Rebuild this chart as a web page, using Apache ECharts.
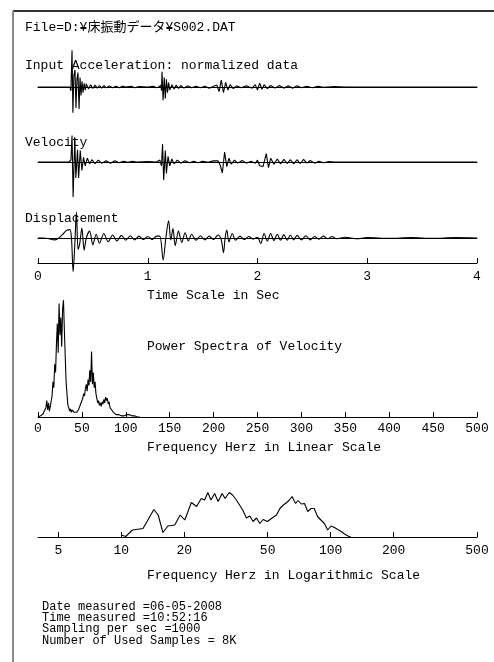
<!DOCTYPE html>
<html>
<head>
<meta charset="utf-8">
<style>
  html, body { margin: 0; padding: 0; background: #fff; }
  #chart { width: 494px; height: 662px; }
</style>
<script src="https://cdn.jsdelivr.net/npm/echarts@6/dist/echarts.min.js"></script>
</head>
<body>
<div id="chart"></div>
<script>
// time traces, [sec, normalized amplitude]
const accel = [
  [0, 0], [0.29, 0], [0.30, -0.10], [0.31, 0.97], [0.318, -0.68], [0.327, 0.30], [0.337, 0.45],
  [0.346, -0.55], [0.355, 0.20], [0.364, 0.38], [0.374, -0.58], [0.383, 0.25], [0.392, -0.22],
  [0.401, 0.15], [0.41, -0.15], [0.42, 0.10], [0.43, -0.08], [0.44, 0.08], [0.46, -0.05],
  [0.48, 0.06], [0.50, -0.04], [0.52, 0.05], [0.54, -0.03], [0.56, 0.04], [0.58, -0.03],
  [0.60, 0.04], [0.62, -0.02], [0.65, 0.03], [0.68, -0.02], [0.71, 0.02], [0.74, -0.02],
  [0.77, 0.02], [0.80, 0], [0.85, 0.02], [0.88, -0.02], [0.92, 0.01], [1.0, 0], [1.05, 0.02],
  [1.08, -0.02], [1.10, 0], [1.12, 0.05], [1.125, -0.10], [1.13, 0.40], [1.14, -0.35],
  [1.15, 0.25], [1.16, -0.30], [1.17, 0.20], [1.18, -0.15], [1.19, 0.12], [1.20, -0.08],
  [1.22, 0.06], [1.24, -0.05], [1.26, 0.05], [1.28, -0.04], [1.30, 0.04], [1.33, -0.03],
  [1.36, 0.03], [1.40, -0.02], [1.44, 0.02], [1.48, -0.02], [1.52, 0.02], [1.56, -0.03],
  [1.60, 0.02], [1.63, 0.05], [1.65, -0.12], [1.67, 0.18], [1.69, -0.15], [1.71, 0.12],
  [1.73, -0.08], [1.75, 0.06], [1.78, -0.04], [1.81, 0.03], [1.85, -0.02], [1.90, 0.03],
  [1.95, -0.03], [1.98, 0.06], [2.00, -0.08], [2.02, 0.10], [2.04, -0.06], [2.06, 0.06],
  [2.09, -0.04], [2.12, 0.04], [2.16, -0.03], [2.20, 0.04], [2.24, -0.03], [2.28, 0.03],
  [2.32, -0.03], [2.36, 0.03], [2.40, -0.02], [2.45, 0.02], [2.50, -0.02], [2.55, 0.02],
  [2.60, -0.01], [2.70, 0.01], [2.80, 0], [4, 0]
];
const velocity = [
  [0, 0], [0.28, 0], [0.30, 0.05], [0.31, 0.70], [0.32, -0.92], [0.335, 0.63], [0.345, -0.42],
  [0.36, 0.32], [0.37, -0.42], [0.385, 0.30], [0.40, -0.22], [0.415, 0.12], [0.43, -0.10],
  [0.45, 0.10], [0.47, -0.05], [0.49, 0.06], [0.52, -0.04], [0.55, 0.05], [0.58, -0.03],
  [0.62, 0.03], [0.66, -0.03], [0.70, 0.03], [0.74, -0.02], [0.78, 0.02], [0.82, -0.01],
  [0.86, 0.02], [0.90, 0], [1.0, 0.01], [1.08, 0], [1.11, 0.05], [1.125, -0.10], [1.135, 0.47],
  [1.145, -0.47], [1.16, 0.30], [1.17, -0.30], [1.185, 0.15], [1.20, -0.10], [1.22, 0.08],
  [1.24, -0.05], [1.27, 0.05], [1.30, -0.03], [1.34, 0.03], [1.38, -0.02], [1.42, 0.02],
  [1.46, -0.02], [1.50, 0.02], [1.55, -0.01], [1.60, 0.03], [1.64, 0.03], [1.66, -0.08],
  [1.68, -0.29], [1.70, 0.26], [1.72, -0.12], [1.74, 0.10], [1.76, -0.06], [1.79, 0.05],
  [1.82, -0.03], [1.86, 0.04], [1.90, -0.03], [1.94, 0.02], [1.98, -0.03], [2.00, 0.05],
  [2.02, -0.10], [2.05, -0.12], [2.08, 0.22], [2.10, -0.15], [2.12, 0.10], [2.15, -0.06],
  [2.18, 0.08], [2.21, -0.05], [2.24, 0.07], [2.27, -0.04], [2.30, 0.06], [2.33, -0.05],
  [2.36, 0.06], [2.39, -0.04], [2.42, 0.07], [2.45, -0.03], [2.48, 0.04], [2.52, -0.03],
  [2.56, 0.02], [2.60, -0.02], [2.65, 0.01], [2.70, 0], [4, 0]
];
const displacement = [
  [0, 0], [0.05, 0], [0.10, -0.02], [0.15, -0.05], [0.18, -0.02], [0.22, 0.08], [0.26, 0.20],
  [0.29, 0.22], [0.305, 0], [0.32, -0.89], [0.335, -0.20], [0.35, 0.68], [0.365, -0.30],
  [0.38, -0.15], [0.40, 0.26], [0.42, -0.32], [0.44, 0], [0.47, 0.18], [0.50, -0.18],
  [0.53, 0.10], [0.56, -0.14], [0.60, 0.12], [0.64, -0.10], [0.68, 0.08], [0.72, -0.08],
  [0.76, 0.07], [0.80, -0.06], [0.84, 0.06], [0.88, -0.05], [0.92, 0.05], [0.96, -0.04],
  [1.00, 0.04], [1.04, -0.04], [1.08, 0.05], [1.11, 0.05], [1.14, -0.58], [1.165, 0],
  [1.19, 0.45], [1.21, -0.05], [1.23, 0.25], [1.25, -0.20], [1.28, 0.18], [1.31, -0.12],
  [1.34, 0.14], [1.37, -0.08], [1.40, 0.10], [1.44, -0.06], [1.48, 0.06], [1.52, -0.05],
  [1.56, 0.05], [1.60, -0.04], [1.64, 0.08], [1.67, -0.05], [1.69, -0.39], [1.705, 0],
  [1.72, 0.21], [1.74, -0.10], [1.77, 0.12], [1.80, -0.06], [1.84, 0.05], [1.88, -0.04],
  [1.92, 0.04], [1.96, -0.03], [2.00, 0.02], [2.03, -0.15], [2.06, 0.12], [2.09, -0.08],
  [2.12, 0.12], [2.15, -0.07], [2.18, 0.10], [2.21, -0.06], [2.24, 0.09], [2.27, -0.06],
  [2.30, 0.08], [2.33, -0.05], [2.36, 0.07], [2.40, -0.05], [2.44, 0.06], [2.48, -0.05],
  [2.52, 0.04], [2.56, -0.03], [2.60, 0.05], [2.64, -0.02], [2.68, 0.04], [2.72, -0.02],
  [2.80, 0.02], [2.90, -0.02], [3.00, 0.01], [3.20, -0.01], [3.40, 0.01], [3.60, -0.01],
  [3.80, 0.01], [4.0, 0]
];
const timeTicks = [0, 1, 2, 3, 4];

// power spectrum, one value per Hz from 0 Hz
const linPower = [
  0, 0, 0.01, 0.01, 0.02, 0.02, 0.03, 0.05, 0.04, 0.08,
  0.14, 0.06, 0.12, 0.05, 0.09, 0.10, 0.18, 0.30, 0.25, 0.45,
  0.38, 0.62, 0.80, 0.55, 0.97, 0.70, 0.85, 0.60, 0.92, 1.00,
  0.75, 0.52, 0.30, 0.20, 0.10, 0.08, 0.05, 0.07, 0.04, 0.06,
  0.05, 0.04, 0.03, 0.05, 0.04, 0.05, 0.06, 0.08, 0.10, 0.12,
  0.14, 0.16, 0.20, 0.18, 0.24, 0.28, 0.22, 0.32, 0.27, 0.40,
  0.30, 0.56, 0.28, 0.38, 0.25, 0.30, 0.20, 0.16, 0.12, 0.14,
  0.10, 0.12, 0.09, 0.13, 0.11, 0.15, 0.12, 0.17, 0.14, 0.16,
  0.11, 0.13, 0.08, 0.09, 0.06, 0.05, 0.04, 0.03, 0.03, 0.02,
  0.02, 0.01, 0.02, 0.01, 0.02, 0.01, 0.01, 0.02, 0.01, 0.02,
  0.01, 0.02, 0.01, 0.01, 0.02, 0.01, 0.01, 0.01, 0.02, 0.01,
  0.01, 0, 0.01, 0, 0.01, 0, 0
];
const linTicks = [0, 50, 100, 150, 200, 250, 300, 350, 400, 450, 500];

// log spectrum, [Hz, normalized level]
const logPower = [
  [10, 0.04], [10.5, 0.01], [11.3, 0.14], [12.7, 0.17], [13.4, 0.34], [14.3, 0.55], [15.0, 0.44],
  [15.8, 0.09], [16.7, 0.22], [18.0, 0.24], [19.1, 0.44], [20.1, 0.34], [21.6, 0.69], [22.9, 0.61],
  [24.1, 0.77], [25.0, 0.74], [25.9, 0.89], [26.8, 0.74], [27.9, 0.87], [29.0, 0.71], [30.3, 0.87],
  [31.3, 0.77], [32.8, 0.89], [34.0, 0.84], [35.3, 0.75], [36.7, 0.64], [38.0, 0.54], [39.6, 0.38],
  [41.1, 0.42], [42.6, 0.31], [44.2, 0.38], [45.9, 0.27], [47.6, 0.35], [49.9, 0.31], [52.1, 0.37],
  [55.1, 0.44], [57.2, 0.57], [59.4, 0.64], [61.7, 0.69], [63.5, 0.74], [65.4, 0.81], [68.0, 0.67],
  [69.9, 0.73], [72.4, 0.66], [75.0, 0.67], [77.7, 0.51], [80.6, 0.57], [83.4, 0.57], [86.6, 0.41],
  [89.8, 0.34], [93.3, 0.27], [96.8, 0.14], [100.4, 0.22], [104.3, 0.19], [108.1, 0.15],
  [112.3, 0.11], [116.5, 0.06], [121.0, 0.02], [124.7, 0]
];
const logTicks = [5, 10, 20, 50, 100, 200, 500];

const infoLines = [
  'Date measured =06-05-2008',
  'Time measured =10:52:16',
  'Sampling per sec =1000',
  'Number of Used Samples = 8K'
];

const FONT = "'Liberation Mono', 'Noto Sans CJK JP', monospace";
const ink = '#000';

const linData = linPower.map((v, i) => [i, v]);

function label(text, left, top, size) {
  return {
    text: text, left: left, top: top, padding: 0,
    textStyle: { fontFamily: FONT, fontSize: size || 13, fontWeight: 'normal', color: ink }
  };
}

function traceX(idx) {
  return {
    gridIndex: idx, type: 'value', min: 0, max: 4,
    axisLine: { show: true, onZero: true, lineStyle: { color: ink, width: 1 } },
    axisTick: { show: false }, axisLabel: { show: false }, splitLine: { show: false }
  };
}
function hiddenY(idx, min, max) {
  return { gridIndex: idx, type: 'value', min: min, max: max, show: false, splitLine: { show: false } };
}
function tickAxis(idx, extra) {
  return Object.assign({
    gridIndex: idx,
    axisLine: { show: true, onZero: false, lineStyle: { color: ink, width: 1 } },
    axisTick: { show: true, inside: true, length: 5, lineStyle: { color: ink } },
    axisLabel: { fontFamily: FONT, fontSize: 13, color: ink, margin: 6 },
    splitLine: { show: false }, minorTick: { show: false }
  }, extra);
}
function trace(data, xi, yi, smooth) {
  return {
    type: 'line', data: data, xAxisIndex: xi, yAxisIndex: yi, smooth: smooth || false,
    showSymbol: false, symbol: 'none', lineStyle: { color: ink, width: 1.1 }, silent: true
  };
}

const chart = echarts.init(document.getElementById('chart'), null, { renderer: 'canvas' });

chart.setOption({
  animation: false,
  backgroundColor: '#fff',
  title: [
    label('File=D:¥床振動データ¥S002.DAT', 25, 21),
    label('Input Acceleration: normalized data', 25, 59),
    label('Velocity', 25, 136),
    label('Displacement', 25, 212),
    label('Time Scale in Sec', 147, 289),
    label('Power Spectra of Velocity', 147, 340),
    label('Frequency Herz in Linear Scale', 147, 441),
    label('Frequency Herz in Logarithmic Scale', 147, 569),
    {
      text: infoLines.join('\n'), left: 42, top: 601, padding: 0,
      textStyle: { fontFamily: FONT, fontSize: 12, lineHeight: 11.3, fontWeight: 'normal', color: ink }
    }
  ],
  graphic: [
    { type: 'line', shape: { x1: 13, y1: 11, x2: 494, y2: 11 }, style: { stroke: '#333', lineWidth: 2 } },
    { type: 'line', shape: { x1: 13, y1: 11, x2: 13, y2: 662 }, style: { stroke: '#888', lineWidth: 2 } }
  ],
  grid: [
    { left: 38, width: 439, top: 49, height: 76 },
    { left: 38, width: 439, top: 124, height: 76 },
    { left: 38, width: 439, top: 200, height: 76 },
    { left: 38, width: 439, top: 250, height: 13 },
    { left: 38, width: 439, top: 300, height: 117 },
    { left: 38, width: 439, top: 487, height: 50 }
  ],
  xAxis: [
    traceX(0), traceX(1), traceX(2),
    tickAxis(3, { type: 'value', min: 0, max: 4, interval: 1,
      axisLabel: { fontFamily: FONT, fontSize: 13, color: ink, margin: 7, customValues: timeTicks },
      axisTick: { show: true, inside: true, length: 5, lineStyle: { color: ink }, customValues: timeTicks } }),
    tickAxis(4, { type: 'value', min: 0, max: 500, interval: 50,
      axisLabel: { fontFamily: FONT, fontSize: 13, color: ink, margin: 5, customValues: linTicks },
      axisTick: { show: true, inside: true, length: 5, lineStyle: { color: ink }, customValues: linTicks } }),
    tickAxis(5, { type: 'log', min: 4, max: 500,
      axisLabel: { fontFamily: FONT, fontSize: 13, color: ink, margin: 7, customValues: logTicks },
      axisTick: { show: true, inside: true, length: 5, lineStyle: { color: ink }, customValues: logTicks } })
  ],
  yAxis: [
    hiddenY(0, -1, 1), hiddenY(1, -1, 1), hiddenY(2, -1, 1),
    hiddenY(3, 0, 1), hiddenY(4, 0, 1), hiddenY(5, 0, 1)
  ],
  series: [
    trace(accel, 0, 0),
    trace(velocity, 1, 1),
    trace(displacement, 2, 2, 0.3),
    trace(linData, 4, 4),
    trace(logPower, 5, 5)
  ]
});
</script>
</body>
</html>
